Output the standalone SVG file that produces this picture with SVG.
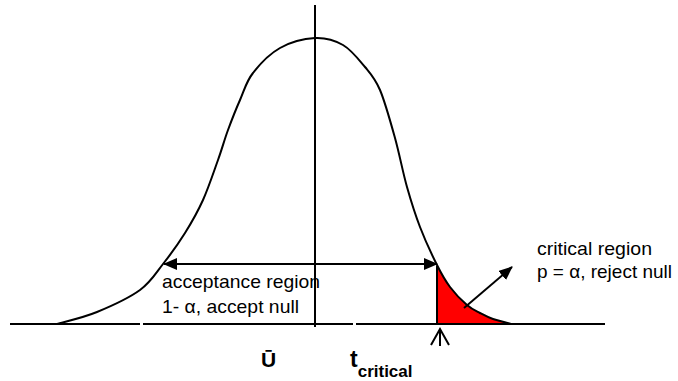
<svg xmlns="http://www.w3.org/2000/svg" width="678" height="381" viewBox="0 0 678 381">
<style>
.ln{fill:none;stroke:#000;stroke-width:2}
.t{font-family:"Liberation Sans",Arial,sans-serif;font-size:19px;fill:#000}
.b{font-family:"Liberation Sans",Arial,sans-serif;font-weight:bold;fill:#000}
</style>
<defs>
<marker id="ah" viewBox="0 0 14 12" refX="13" refY="6" markerWidth="14" markerHeight="12" markerUnits="userSpaceOnUse" orient="auto-start-reverse">
<path d="M0,0 L14,6 L0,12 Z" fill="#000"/>
</marker>
</defs>
<rect width="678" height="381" fill="#fff"/>
<g id="critical-area">
<path d="M437,265 C442,275 445,280.3 450,287 C455,293.7 462,300.7 467,305 C472,309.3 475.7,310.7 480,313 C484.3,315.3 487.7,317.2 493,319 C498.3,320.8 508.8,323.2 512,324 L437,324 Z" fill="#ff0000" stroke="none"/>
<line x1="437" y1="266" x2="437" y2="324" class="ln"/>
</g>
<g id="axes">
<path d="M10,324 H140 M143,324 H353 M356,324 H605" class="ln"/>
<line x1="315" y1="5" x2="315" y2="327" class="ln"/>
</g>
<g id="curve">
<path class="ln" d="M57,324 C63.7,322 83.2,317.7 97,312 C110.8,306.3 129,298 140,290 C151,282 155.5,273.5 163,264 C170.5,254.5 178.3,243.7 185,233 C191.7,222.3 197.5,212.2 203,200 C208.5,187.8 213.8,171.7 218,160 C222.2,148.3 224.3,140 228,130 C231.7,120 235.8,109.5 240,100 C244.2,90.5 246.3,81.3 253,73 C259.7,64.3 269.7,53.8 280,48 C290.3,42.2 304.5,38.5 315,38 C325.5,37.5 334.7,40.2 343,45 C351.3,49.8 358.8,59.5 365,67 C371.2,74.5 375,78.2 380,90 C385,101.8 390.5,121.8 395,138 C399.5,154.2 402.8,172.2 407,187 C411.2,201.8 415,214 420,227 C425,240 432,255 437,265 C442,275 445,280.3 450,287 C455,293.7 462,300.7 467,305 C472,309.3 475.7,310.7 480,313 C484.3,315.3 487.7,317.2 493,319 C498.3,320.8 508.8,323.2 512,324"/>
</g>
<g id="connectors">
<line x1="164" y1="264" x2="437" y2="264" class="ln" marker-start="url(#ah)" marker-end="url(#ah)"/>
<line x1="464" y1="308" x2="512" y2="267" class="ln" marker-end="url(#ah)"/>
<path d="M440,346 V329 M431,345 L440,329 L449,345" class="ln" stroke-width="1.5"/>
</g>
<g id="acceptance-label">
<text class="t" x="162" y="288" textLength="158" lengthAdjust="spacingAndGlyphs">acceptance region</text>
<text class="t" x="162" y="313" textLength="137" lengthAdjust="spacingAndGlyphs">1- α, accept null</text>
</g>
<g id="critical-label">
<text class="t" x="537" y="255" textLength="115" lengthAdjust="spacingAndGlyphs">critical region</text>
<text class="t" x="537" y="278" textLength="135" lengthAdjust="spacingAndGlyphs">p = α, reject null</text>
</g>
<g id="mean-label">
<text class="b" x="261" y="367" font-size="21">Ū</text>
</g>
<g id="tcrit-label">
<text class="b" x="350" y="367" font-size="23">t<tspan font-size="17" dy="10">critical</tspan></text>
</g>
</svg>
